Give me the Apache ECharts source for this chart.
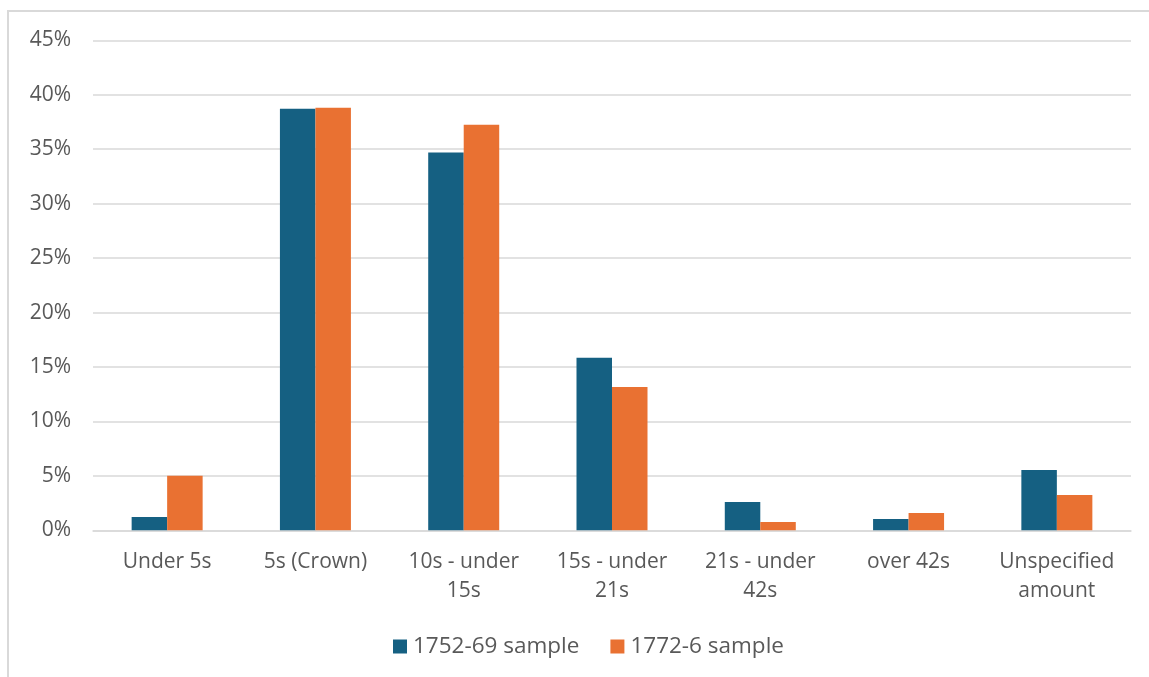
<!DOCTYPE html>
<html>
<head>
<meta charset="utf-8">
<script src="https://cdn.jsdelivr.net/npm/echarts@6/dist/echarts.min.js"></script>
<style>
  html, body { margin: 0; padding: 0; background: #fff; }
  #chart { width: 1149px; height: 677px; }
</style>
</head>
<body>
<div id="chart"></div>
<script>
// Share of sums by amount band, two sample periods
const categories = ['Under 5s', '5s (Crown)', '10s - under\n15s', '15s - under\n21s', '21s - under\n42s', 'over 42s', 'Unspecified\namount'];
const sample1752 = [1.22, 38.72, 34.7, 15.84, 2.6, 1.04, 5.54];
const sample1772 = [5.02, 38.81, 37.25, 13.17, 0.76, 1.59, 3.24];
const seriesNames = ['1752-69 sample', '1772-6 sample'];
const yTicks = { min: 0, max: 45, interval: 5 };

const FONT = '"Open Sans", "Liberation Sans", sans-serif';
const TEXT = '#595959';

const chart = echarts.init(document.getElementById('chart'), null, { renderer: 'canvas' });
chart.setOption({
  animation: false,
  backgroundColor: '#fff',
  graphic: [{
    type: 'rect',
    shape: { x: 8, y: 11, width: 1200, height: 720 },
    style: { fill: 'none', stroke: '#d9d9d9', lineWidth: 2 },
    silent: true
  }],
  grid: { left: 93, right: 18, top: 40.3, bottom: 146.7 },
  legend: {
    top: 630,
    left: 388,
    itemWidth: 14,
    itemHeight: 14,
    itemGap: 31,
    icon: 'rect',
    textStyle: { color: TEXT, fontSize: 22.5, fontFamily: FONT, padding: [0, 0, 0, 1] },
    data: seriesNames
  },
  xAxis: {
    type: 'category',
    data: categories,
    axisLine: { show: true, lineStyle: { color: '#d9d9d9', width: 1.5 } },
    axisTick: { show: false },
    axisLabel: { color: TEXT, fontSize: 21, fontFamily: FONT, lineHeight: 29, margin: 17, interval: 0 }
  },
  yAxis: {
    type: 'value',
    min: yTicks.min,
    max: yTicks.max,
    interval: yTicks.interval,
    axisLine: { show: false },
    axisTick: { show: false },
    splitLine: { lineStyle: { color: '#d9d9d9', width: 1.5 } },
    axisLabel: { color: TEXT, fontSize: 21, fontFamily: FONT, margin: 22, formatter: '{value}%' }
  },
  series: [
    {
      name: seriesNames[0],
      type: 'bar',
      data: sample1752,
      barWidth: 35.5,
      barGap: '0%',
      itemStyle: { color: '#156082' }
    },
    {
      name: seriesNames[1],
      type: 'bar',
      data: sample1772,
      barWidth: 35.5,
      barGap: '0%',
      itemStyle: { color: '#e97132' }
    }
  ]
});
</script>
</body>
</html>
